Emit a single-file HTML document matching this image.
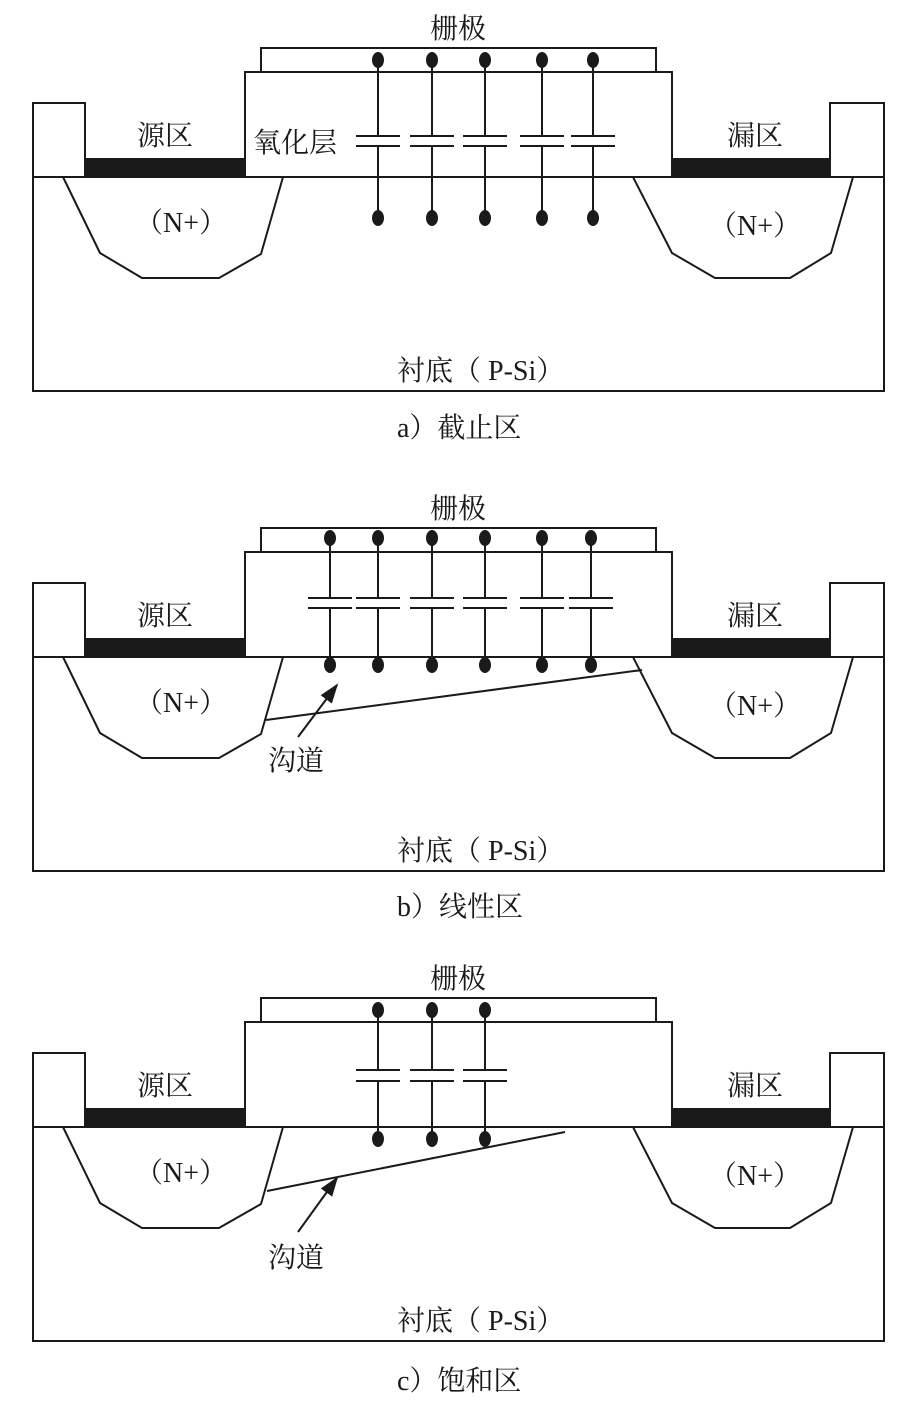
<!DOCTYPE html>
<html><head><meta charset="utf-8"><style>
html,body{margin:0;padding:0;background:#fff;}
svg{display:block;}
text{font-family:"Liberation Serif","Noto Serif CJK SC",serif;font-size:28px;fill:#1a1a1a;}
</style></head><body>
<svg width="916" height="1403" viewBox="0 0 916 1403" xmlns="http://www.w3.org/2000/svg">
<defs>
<g id="base" fill="none" stroke="#1a1a1a" stroke-width="2">
  <rect x="33" y="177" width="851" height="214"/>
  <rect x="33" y="103" width="52" height="74"/>
  <rect x="830" y="103" width="54" height="74"/>
  <rect x="85" y="158" width="160" height="19" fill="#1a1a1a" stroke="none"/>
  <rect x="672" y="158" width="158" height="19" fill="#1a1a1a" stroke="none"/>
  <rect x="245" y="72" width="427" height="105" fill="#fff"/>
  <rect x="261" y="48" width="395" height="24"/>
  <polyline points="63,177 100,253 142,278 219,278 261,254 283,177"/>
  <polyline points="633,177 672,253 715,278 790,278 831,253 853,177"/>
</g>
<g id="lbl">
  <text x="458" y="38" text-anchor="middle">栅极</text>
  <text x="165" y="145" text-anchor="middle">源区</text>
  <text x="755" y="145" text-anchor="middle">漏区</text>
  <text x="181" y="232" text-anchor="middle">（N+）</text>
  <text x="755" y="235" text-anchor="middle">（N+）</text>
  <text x="397" y="380">衬底（ P-Si）</text>
</g>
<marker id="ar" markerWidth="20" markerHeight="14" refX="18" refY="7" orient="auto" markerUnits="userSpaceOnUse" viewBox="0 0 20 14">
  <path d="M0,0 L20,7 L0,14 z" fill="#1a1a1a"/>
</marker>
</defs>

<!-- Panel a -->
<g>
  <use href="#base"/><use href="#lbl"/>
  <text x="253" y="152">氧化层</text>
  <g stroke="#1a1a1a" stroke-width="2" fill="#1a1a1a">
    <g id="capa">
      <line x1="378" y1="60" x2="378" y2="136"/><line x1="378" y1="146" x2="378" y2="218"/>
      <line x1="356" y1="136" x2="400" y2="136"/><line x1="356" y1="146" x2="400" y2="146"/>
      <ellipse cx="378" cy="60" rx="6" ry="8" stroke="none"/><ellipse cx="378" cy="218" rx="6" ry="8" stroke="none"/>
    </g>
    <use href="#capa" x="54"/><use href="#capa" x="107"/><use href="#capa" x="164"/><use href="#capa" x="215"/>
  </g>
  <text x="397" y="437">a）截止区</text>
</g>

<!-- Panel b -->
<g transform="translate(0,480)">
  <use href="#base"/><use href="#lbl"/>
  <g stroke="#1a1a1a" stroke-width="2" fill="#1a1a1a">
    <g id="capb">
      <line x1="330" y1="58" x2="330" y2="118"/><line x1="330" y1="128" x2="330" y2="185"/>
      <line x1="308" y1="118" x2="352" y2="118"/><line x1="308" y1="128" x2="352" y2="128"/>
      <ellipse cx="330" cy="58" rx="6" ry="8" stroke="none"/><ellipse cx="330" cy="185" rx="6" ry="8" stroke="none"/>
    </g>
    <use href="#capb" x="48"/><use href="#capb" x="102"/><use href="#capb" x="155"/><use href="#capb" x="212"/><use href="#capb" x="261"/>
    <line x1="266" y1="240" x2="642" y2="190"/>
    <line x1="298" y1="257" x2="337" y2="205" marker-end="url(#ar)"/>
  </g>
  <text x="268" y="290">沟道</text>
  <text x="397" y="436">b）线性区</text>
</g>

<!-- Panel c -->
<g transform="translate(0,950)">
  <use href="#base"/><use href="#lbl"/>
  <g stroke="#1a1a1a" stroke-width="2" fill="#1a1a1a">
    <g id="capc">
      <line x1="378" y1="60" x2="378" y2="120"/><line x1="378" y1="131" x2="378" y2="189"/>
      <line x1="356" y1="120" x2="400" y2="120"/><line x1="356" y1="131" x2="400" y2="131"/>
      <ellipse cx="378" cy="60" rx="6" ry="8" stroke="none"/><ellipse cx="378" cy="189" rx="6" ry="8" stroke="none"/>
    </g>
    <use href="#capc" x="54"/><use href="#capc" x="107"/>
    <line x1="267" y1="241" x2="565" y2="182"/>
    <line x1="298" y1="282" x2="337" y2="228" marker-end="url(#ar)"/>
  </g>
  <text x="268" y="317">沟道</text>
  <text x="397" y="440">c）饱和区</text>
</g>
</svg>
</body></html>
